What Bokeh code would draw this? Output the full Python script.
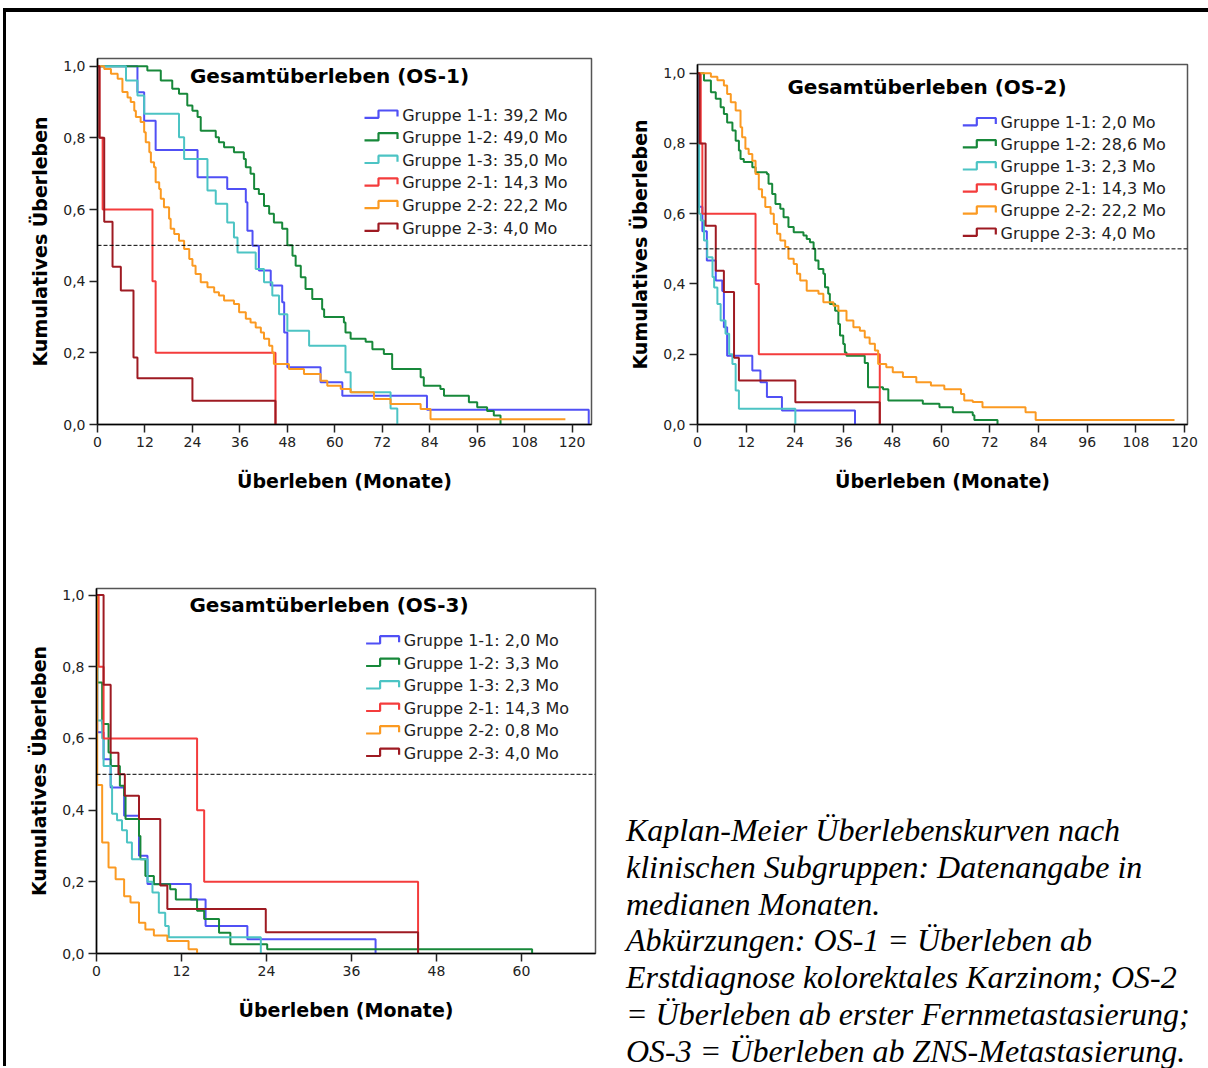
from bokeh.plotting import figure
from bokeh.models import Range1d, FixedTicker, CustomJSTickFormatter, Span, Div, Spacer
from bokeh.layouts import row, column
from bokeh.core.properties import value
from bokeh.embed import file_html
from bokeh.resources import INLINE

# ---------------- data ----------------
groups = ["Gruppe 1-1", "Gruppe 1-2", "Gruppe 1-3", "Gruppe 2-1", "Gruppe 2-2", "Gruppe 2-3"]
colors = ["#5050f5", "#17883a", "#4cc4c4", "#f43c3c", "#fb9a22", "#9e1a22"]

medians_os1 = ["39,2", "49,0", "35,0", "14,3", "22,2", "4,0"]
medians_os2 = ["2,0", "28,6", "2,3", "14,3", "22,2", "4,0"]
medians_os3 = ["2,0", "3,3", "2,3", "14,3", "0,8", "4,0"]

x_ticks_long = [0, 12, 24, 36, 48, 60, 72, 84, 96, 108, 120]
x_ticks_short = [0, 12, 24, 36, 48, 60]
y_ticks = [0.0, 0.2, 0.4, 0.6, 0.8, 1.0]

# OS-1 (months, cumulative survival)
os1_g11_t = [0, 10.1, 11.8, 14.7, 25.3, 32.8, 37.5, 37.9, 39.2, 40.8, 43.8, 46.7, 47.2, 48.0, 56.4, 61.9, 83.3, 124.2]
os1_g11_s = [1.0, 0.927, 0.848, 0.766, 0.69, 0.657, 0.62, 0.541, 0.499, 0.43, 0.388, 0.341, 0.257, 0.16, 0.118, 0.08, 0.041, 0.0]
os1_g12_t = [0, 12.6, 16.0, 18.9, 20.6, 22.7, 24.0, 25.3, 26.1, 29.9, 30.7, 32.0, 34.5, 37.0, 37.5, 38.7, 39.6, 40.8, 42.1, 43.4,
             44.6, 46.7, 48.0, 49.3, 50.1, 51.4, 52.6, 54.3, 56.8, 57.3, 62.3, 62.7, 64.0, 67.8, 69.5, 72.4, 74.5, 81.7, 82.5, 86.7,
             87.6, 93.9, 96.0, 98.5, 100.2, 101.9]
os1_g12_s = [1.0, 0.988, 0.96, 0.937, 0.923, 0.89, 0.876, 0.858, 0.82, 0.802, 0.788, 0.774, 0.76, 0.741, 0.718, 0.70, 0.657, 0.643, 0.61, 0.588,
             0.564, 0.546, 0.50, 0.471, 0.443, 0.411, 0.378, 0.35, 0.322, 0.30, 0.285, 0.257, 0.239, 0.231, 0.21, 0.197, 0.155, 0.132, 0.108, 0.099,
             0.08, 0.062, 0.048, 0.038, 0.025, 0.0]
os1_g13_t = [0, 7.2, 10.1, 11.8, 20.6, 21.9, 27.8, 29.9, 32.8, 34.5, 35.4, 40.0, 42.1, 44.2, 45.9, 48.0, 53.5, 62.7, 64.0, 74.1, 75.8]
os1_g13_s = [1.0, 0.96, 0.918, 0.867, 0.802, 0.741, 0.653, 0.616, 0.564, 0.522, 0.48, 0.434, 0.397, 0.36, 0.308, 0.262, 0.22, 0.146, 0.09, 0.045, 0.0]
os1_g21_t = [0, 0.5, 1.3, 13.9, 14.7, 45.0]
os1_g21_s = [1.0, 0.8, 0.6, 0.4, 0.2, 0.0]
os1_g22_t = [0, 1.7, 3.4, 5.1, 6.3, 7.6, 8.4, 9.3, 9.7, 10.9, 11.8, 12.2, 13.1, 13.5, 14.3, 14.7, 15.6, 16.0, 16.8, 18.1,
             18.5, 19.4, 20.6, 21.9, 23.2, 24.0, 24.8, 26.1, 27.8, 29.5, 30.7, 32.0, 34.5, 35.8, 37.5, 38.7, 40.0, 41.3, 42.1, 43.4,
             44.2, 44.6, 48.4, 52.2, 56.4, 58.1, 61.5, 64.0, 69.9, 74.1, 81.7, 84.2, 118.3]
os1_g22_s = [1.0, 0.992, 0.979, 0.965, 0.928, 0.913, 0.9, 0.876, 0.858, 0.844, 0.816, 0.788, 0.76, 0.732, 0.718, 0.676, 0.657, 0.63, 0.606, 0.574,
             0.546, 0.532, 0.513, 0.49, 0.462, 0.443, 0.42, 0.397, 0.383, 0.369, 0.36, 0.346, 0.336, 0.313, 0.295, 0.285, 0.271, 0.257, 0.239, 0.22,
             0.201, 0.169, 0.155, 0.141, 0.122, 0.108, 0.099, 0.09, 0.071, 0.057, 0.043, 0.015, 0.015]
os1_g23_t = [0, 0.5, 1.7, 3.8, 5.9, 9.1, 10.1, 24.0, 45.0]
os1_g23_s = [1.0, 0.8, 0.566, 0.44, 0.374, 0.187, 0.129, 0.066, 0.0]

# OS-2
os2_g11_t = [0, 0.2, 1.2, 2.3, 4.5, 6.1, 6.5, 7.3, 13.5, 15.5, 17.1, 20.8, 38.8]
os2_g11_s = [1.0, 0.62, 0.55, 0.467, 0.41, 0.38, 0.277, 0.196, 0.154, 0.12, 0.078, 0.04, 0.0]
os2_g12_t = [0, 1.6, 3.3, 4.5, 5.7, 6.5, 7.3, 8.6, 9.4, 10.2, 10.6, 11.4, 13.5, 14.3, 17.1, 17.5, 18.4, 19.2, 20.4, 21.2,
             22.4, 23.7, 26.1, 26.9, 27.7, 28.6, 29.0, 29.8, 31.0, 31.4, 32.2, 32.6, 33.9, 34.7, 35.1, 35.9, 36.3, 36.7, 41.2, 42.0,
             45.7, 47.0, 55.5, 59.6, 62.9, 67.8, 68.2, 73.9]
os2_g12_s = [1.0, 0.979, 0.946, 0.927, 0.903, 0.884, 0.86, 0.837, 0.808, 0.78, 0.756, 0.747, 0.732, 0.718, 0.713, 0.685, 0.656, 0.628, 0.614, 0.59,
             0.562, 0.547, 0.538, 0.528, 0.519, 0.5, 0.467, 0.443, 0.429, 0.391, 0.372, 0.343, 0.324, 0.286, 0.253, 0.229, 0.205, 0.196, 0.175, 0.106,
             0.1, 0.068, 0.059, 0.049, 0.035, 0.026, 0.013, 0.0]
os2_g13_t = [0, 0.05, 0.4, 0.8, 1.6, 2.4, 3.7, 4.1, 4.9, 5.7, 6.9, 7.8, 8.6, 9.4, 10.2, 24.1]
os2_g13_s = [1.0, 0.8, 0.6, 0.581, 0.524, 0.476, 0.42, 0.39, 0.343, 0.296, 0.258, 0.2, 0.172, 0.097, 0.045, 0.0]
os2_g21_t = [0, 0.8, 1.2, 14.3, 15.1, 44.9]
os2_g21_s = [1.0, 0.8, 0.6, 0.4, 0.2, 0.0]
os2_g22_t = [0, 3.3, 4.9, 6.5, 7.3, 8.2, 9.4, 10.6, 11.0, 11.8, 12.6, 13.5, 14.3, 15.1, 15.9, 16.7, 18.0, 18.8, 19.6, 20.4,
             21.6, 22.4, 23.7, 24.5, 25.3, 26.9, 29.8, 31.0, 33.5, 34.7, 36.7, 38.4, 40.0, 41.2, 42.4, 43.7, 44.5, 46.5, 48.1, 50.6,
             53.9, 57.5, 60.8, 64.9, 65.7, 67.8, 70.2, 80.8, 83.3, 117.5]
os2_g22_s = [1.0, 0.99, 0.98, 0.965, 0.941, 0.917, 0.894, 0.846, 0.818, 0.785, 0.77, 0.751, 0.713, 0.67, 0.647, 0.619, 0.6, 0.571, 0.543, 0.524,
             0.505, 0.472, 0.457, 0.429, 0.41, 0.381, 0.372, 0.348, 0.338, 0.324, 0.296, 0.277, 0.267, 0.248, 0.23, 0.211, 0.172, 0.163, 0.149, 0.135,
             0.12, 0.111, 0.1, 0.087, 0.068, 0.064, 0.049, 0.035, 0.013, 0.013]
os2_g23_t = [0, 0.5, 2.0, 4.5, 6.5, 9.0, 10.2, 24.1, 44.9]
os2_g23_s = [1.0, 0.8, 0.566, 0.438, 0.377, 0.19, 0.125, 0.063, 0.0]

# OS-3
os3_g11_t = [0, 0.1, 1.0, 2.0, 3.9, 6.0, 7.2, 13.3, 15.4, 21.3, 39.4]
os3_g11_s = [1.0, 0.617, 0.542, 0.463, 0.384, 0.273, 0.194, 0.151, 0.077, 0.04, 0.0]
os3_g12_t = [0, 0.1, 0.8, 1.7, 2.0, 3.3, 3.9, 4.1, 6.0, 6.2, 6.9, 8.1, 10.4, 11.2, 14.2, 15.2, 17.3, 18.9, 24.1, 61.5]
os3_g12_s = [1.0, 0.756, 0.64, 0.561, 0.523, 0.468, 0.44, 0.375, 0.328, 0.263, 0.216, 0.193, 0.179, 0.151, 0.119, 0.096, 0.058, 0.026, 0.012, 0.0]
os3_g13_t = [0, 0.1, 0.8, 1.0, 2.0, 2.2, 2.9, 3.6, 4.3, 5.0, 7.2, 7.9, 8.8, 9.7, 10.2, 23.2]
os3_g13_s = [1.0, 0.65, 0.6, 0.523, 0.468, 0.39, 0.372, 0.344, 0.31, 0.263, 0.2, 0.17, 0.114, 0.077, 0.045, 0.0]
os3_g21_t = [0, 0.3, 1.0, 14.2, 15.2, 45.4]
os3_g21_s = [1.0, 0.8, 0.6, 0.4, 0.2, 0.0]
os3_g22_t = [0, 0.1, 0.8, 1.7, 2.7, 3.9, 4.8, 6.0, 6.9, 8.1, 10.0, 13.0, 14.2]
os3_g22_s = [1.0, 0.47, 0.31, 0.24, 0.207, 0.16, 0.142, 0.086, 0.067, 0.05, 0.035, 0.012, 0.0]
os3_g23_t = [0, 1.0, 2.0, 3.1, 4.0, 6.0, 9.0, 10.0, 23.9, 45.4]
os3_g23_s = [1.0, 0.75, 0.56, 0.5, 0.44, 0.375, 0.19, 0.124, 0.059, 0.0]

caption_lines = [
    "Kaplan-Meier Überlebenskurven nach",
    "klinischen Subgruppen: Datenangabe in",
    "medianen Monaten.",
    "Abkürzungen: OS-1 = Überleben ab",
    "Erstdiagnose kolorektales Karzinom; OS-2",
    "= Überleben ab erster Fernmetastasierung;",
    "OS-3 = Überleben ab ZNS-Metastasierung.",
]

SANS = "DejaVu Sans"


def make_panel(title, series, medians, xr, yr, width, height, mbl, mbt, fw, fh,
               xticks, title_xy, leg_x, leg_y0, leg_dy):
    mbr = width - mbl - fw
    mbb = height - mbt - fh
    p = figure(width=width, height=height, x_range=Range1d(*xr), y_range=Range1d(*yr),
               output_backend="svg", toolbar_location=None,
               min_border_left=mbl, min_border_top=mbt, min_border_right=mbr, min_border_bottom=mbb)
    p.extra_x_ranges = {"px": Range1d(0, fw)}
    p.extra_y_ranges = {"px": Range1d(fh, 0)}
    p.grid.visible = False
    p.background_fill_color = "white"
    p.border_fill_color = "white"
    p.outline_line_color = "#555555"
    p.outline_line_width = 1.5

    p.xaxis.ticker = FixedTicker(ticks=xticks)
    p.yaxis.ticker = FixedTicker(ticks=y_ticks)
    p.yaxis.formatter = CustomJSTickFormatter(code="return tick.toFixed(1).replace('.', ',');")
    p.xaxis.axis_label = "Überleben (Monate)"
    p.yaxis.axis_label = "Kumulatives Überleben"
    for ax in (p.xaxis, p.yaxis):
        ax.axis_line_color = "black"
        ax.axis_line_width = 1.5
        ax.major_tick_out = 8
        ax.major_tick_in = 0
        ax.major_tick_line_width = 1.5
        ax.major_tick_line_color = "#222222"
        ax.minor_tick_out = 0
        ax.minor_tick_in = 0
        ax.major_label_text_font = SANS
        ax.major_label_text_font_size = "14px"
        ax.major_label_text_color = "#222222"
        ax.major_label_standoff = 4
        ax.axis_label_text_font = SANS
        ax.axis_label_text_font_style = "bold"
        ax.axis_label_text_font_size = "19px"
        ax.axis_label_text_color = "black"
    p.xaxis.axis_label_standoff = 20
    p.yaxis.axis_label_standoff = 9

    p.add_layout(Span(location=0.5, dimension="width", line_color="black",
                      line_dash="4 2", line_width=1))

    for (t, s), c in zip(series, colors):
        p.step(t, s, mode="after", line_color=c, line_width=2)

    # title inside the frame
    p.text(x=[title_xy[0]], y=[title_xy[1]], text=[title], text_align="center",
           text_baseline="middle", text_font=value(SANS), text_font_style="bold",
           text_font_size="20px", text_color="black", x_range_name="px", y_range_name="px")

    # legend with step-shaped icons
    xs, ys, ty = [], [], []
    for i in range(len(groups)):
        yc = leg_y0 + i * leg_dy
        xs.append([leg_x - 37.7, leg_x - 23.7, leg_x - 23.7, leg_x - 4.7, leg_x - 4.7])
        ys.append([yc + 2.8, yc + 2.8, yc - 4.5, yc - 4.5, yc + 1.5])
        ty.append(yc)
    p.multi_line(xs, ys, line_color=colors, line_width=2.2, x_range_name="px", y_range_name="px")
    labels = [f"{g}: {m} Mo" for g, m in zip(groups, medians)]
    p.text(x=[leg_x] * len(labels), y=ty, text=labels, text_align="left", text_baseline="middle",
           text_font=value(SANS), text_font_size="16px", text_color="#222222",
           x_range_name="px", y_range_name="px")
    return p


series1 = [(os1_g11_t, os1_g11_s), (os1_g12_t, os1_g12_s), (os1_g13_t, os1_g13_s),
           (os1_g21_t, os1_g21_s), (os1_g22_t, os1_g22_s), (os1_g23_t, os1_g23_s)]
series2 = [(os2_g11_t, os2_g11_s), (os2_g12_t, os2_g12_s), (os2_g13_t, os2_g13_s),
           (os2_g21_t, os2_g21_s), (os2_g22_t, os2_g22_s), (os2_g23_t, os2_g23_s)]
series3 = [(os3_g11_t, os3_g11_s), (os3_g12_t, os3_g12_s), (os3_g13_t, os3_g13_s),
           (os3_g21_t, os3_g21_s), (os3_g22_t, os3_g22_s), (os3_g23_t, os3_g23_s)]

p1 = make_panel("Gesamtüberleben (OS-1)", series1, medians_os1, (0, 124.9), (0, 1.0215),
                619, 530, 91, 46, 494, 366, x_ticks_long, (232, 17.1), 304.7, 56.5, 22.6)
p2 = make_panel("Gesamtüberleben (OS-2)", series2, medians_os2, (0, 120.7), (0, 1.0248),
                575, 524, 72, 46, 490, 360, x_ticks_long, (229.5, 22.7), 303.0, 58.0, 22.1)
p3 = make_panel("Gesamtüberleben (OS-3)", series3, medians_os3, (0, 70.45), (0, 1.0184),
                595, 524, 90, 46, 499, 365, x_ticks_short, (232.5, 16.4), 307.3, 52.2, 22.5)

cap_html = ('<div style="margin-top:265px;margin-left:20px;font-family:\'Liberation Serif\',serif;'
            'font-style:italic;font-size:32px;line-height:36.8px;white-space:nowrap;color:#000;">'
            + "<br>".join(caption_lines) + "</div>")
cap = Div(text=cap_html, width=599, height=524)

top_gap = Spacer(width=1200, height=8)
top_bar = Spacer(width=1205, height=4, styles={"background-color": "black"})
left_gap = Spacer(width=3, height=1054)
left_bar = Spacer(width=3, height=1054, styles={"background-color": "black"})

right_col = column(Spacer(width=575, height=6), p2)
content = column(row(p1, right_col), row(p3, cap))
layout = column(top_gap, row(left_gap, column(top_bar, row(left_bar, content))))

open("out.html", "w").write(file_html(layout, INLINE))
